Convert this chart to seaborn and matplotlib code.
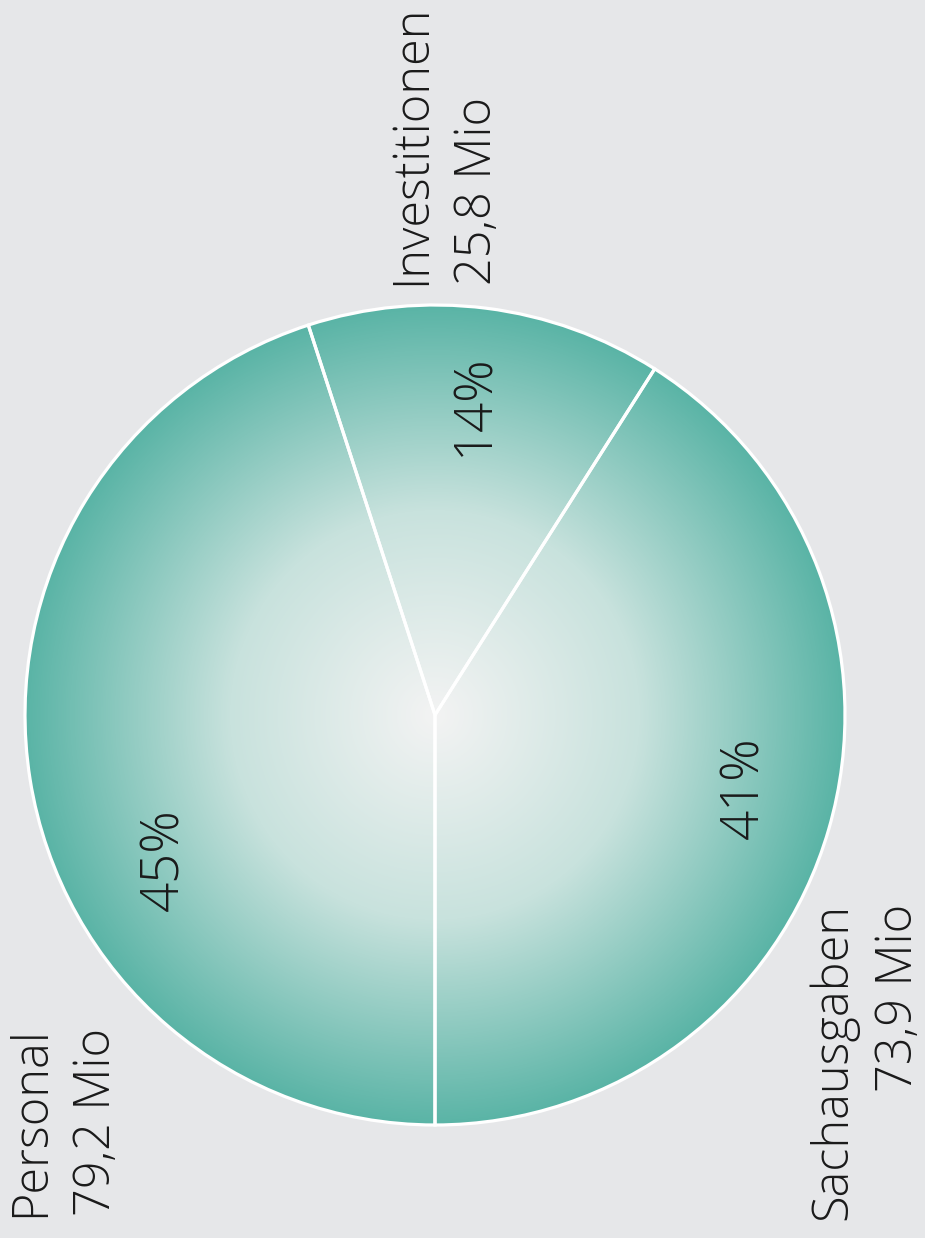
import numpy as np
import matplotlib.pyplot as plt
import matplotlib.patches as mpatches
import seaborn as sns

sns.set_style('white')
plt.rcParams['font.family'] = ['Open Sans', 'DejaVu Sans']

# Data
categories = ['Personal', 'Investitionen', 'Sachausgaben']
amounts = ['79,2 Mio', '25,8 Mio', '73,9 Mio']
percents = [45, 14, 41]

bg_color = '#e6e7e9'
edge_teal = '#5ab4a6'
center_white = '#f3f3f3'

W, H = 925, 1238
fig = plt.figure(figsize=(W / 100, H / 100), dpi=100, facecolor=bg_color)
ax = fig.add_axes([0, 0, 1, 1])
ax.set_facecolor(bg_color)
ax.set_xlim(0, W)
ax.set_ylim(0, H)
ax.axis('off')

cx, cy, r = 435, H - 715, 410

# Radial gradient fill, clipped to the pie circle
cmap = sns.blend_palette([center_white, '#c8e2dd', edge_teal], as_cmap=True)
n = 800
xx, yy = np.meshgrid(np.linspace(-1, 1, n), np.linspace(-1, 1, n))
rr = np.sqrt(xx ** 2 + yy ** 2)
img = ax.imshow(rr, cmap=cmap, vmin=0, vmax=1, extent=[cx - r, cx + r, cy - r, cy + r],
                origin='lower', interpolation='bilinear', zorder=1)
clip = mpatches.Circle((cx, cy), r, transform=ax.transData)
img.set_clip_path(clip)

# Wedge outlines
wedges, _ = ax.pie(percents, center=(cx, cy), radius=r, startangle=270, counterclock=False,
                   wedgeprops=dict(facecolor='none', edgecolor='white', linewidth=2.3))
for w in wedges:
    w.set_zorder(2)
ax.set_xlim(0, W)
ax.set_ylim(0, H)
ax.set_aspect('auto')

txt = dict(rotation=90, ha='center', va='center', color='#1a1a1a', fontweight='light', zorder=3)

# Percent labels
pct_pos = [(165, 860), (475, 405), (745, 788)]
for p, (x, y) in zip(percents, pct_pos):
    ax.text(x, H - y, f'{p}%', fontsize=38, **txt)

# Category labels
name_pos = [(64, 1122, 'center'), (445, 145, 'left'), (866, 1062, 'right')]
for c, a, (x, y, al) in zip(categories, amounts, name_pos):
    ax.text(x, H - y, f'{c}\n{a}', multialignment=al, linespacing=1.4, fontsize=35, **txt)

fig.savefig('out.png', dpi=100, facecolor=bg_color)
